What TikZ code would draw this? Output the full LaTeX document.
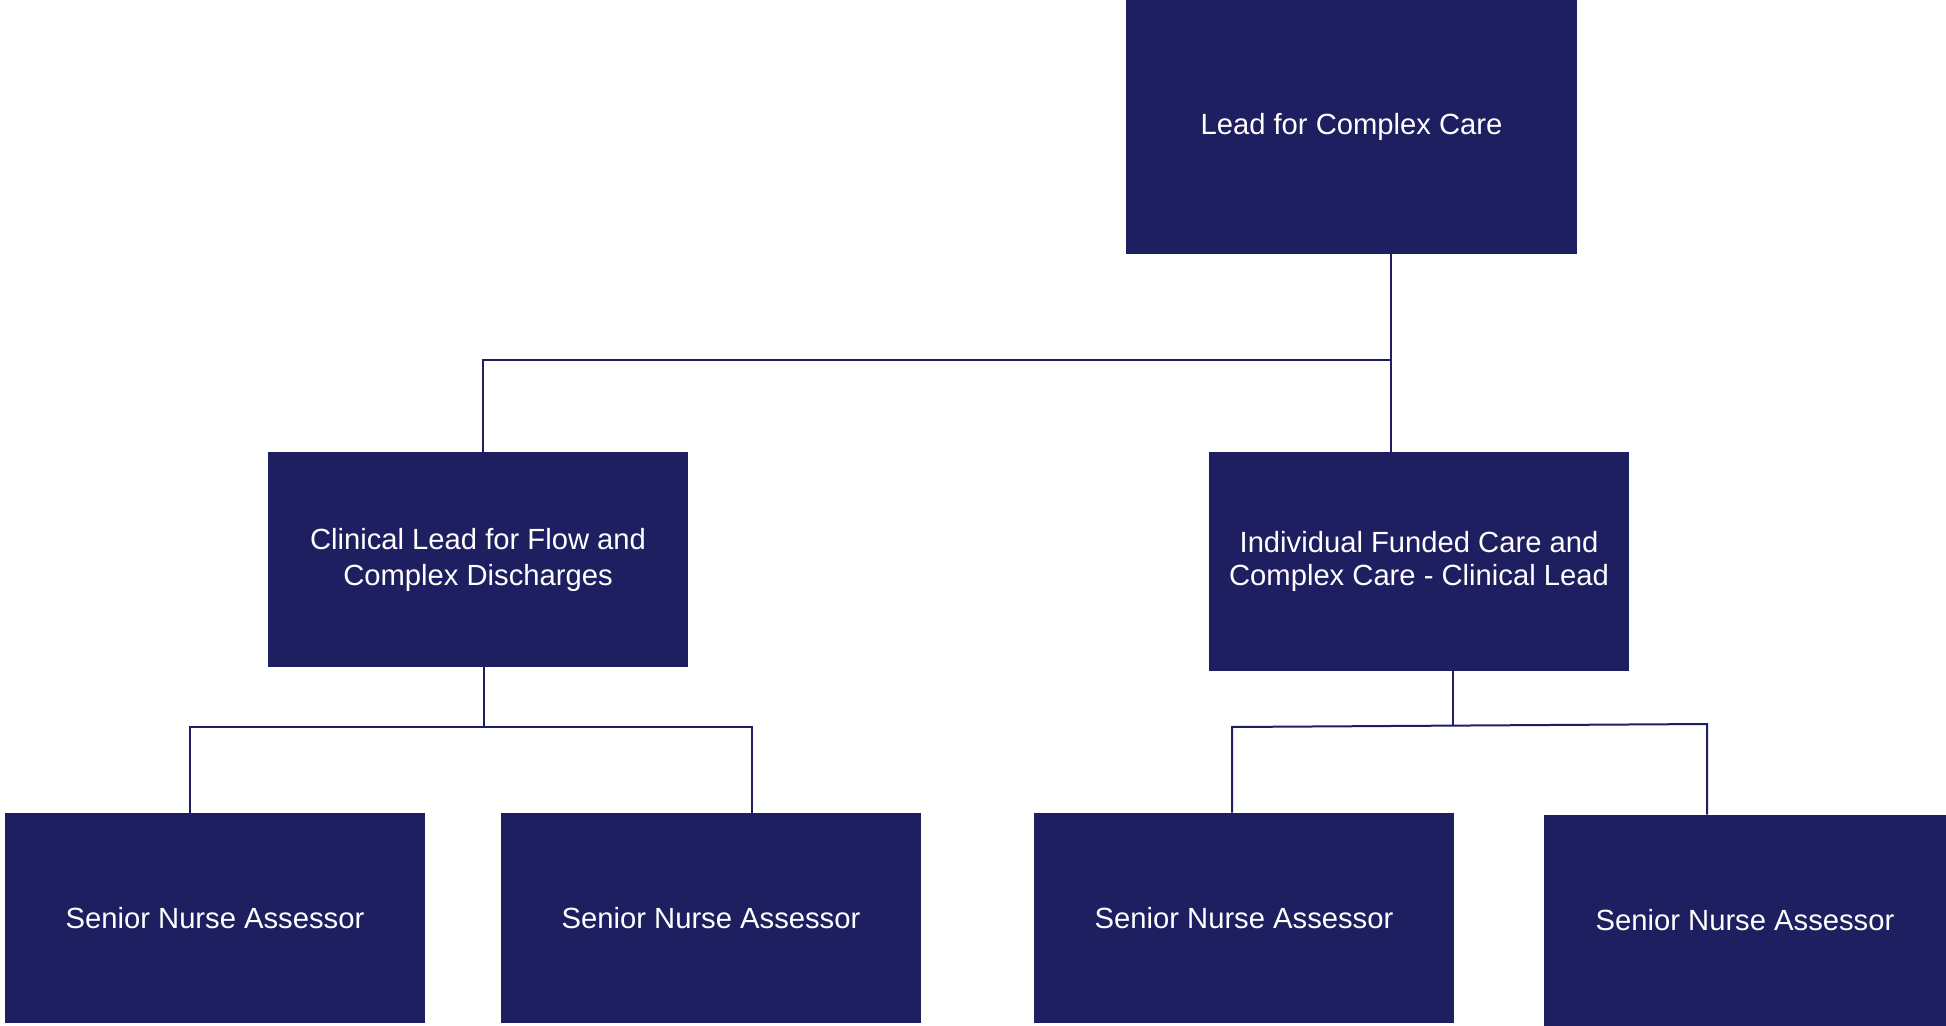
\documentclass[tikz,border=0pt]{standalone}
\usepackage{fontspec}
\setmainfont{Liberation Sans}
\definecolor{navy}{RGB}{30,31,96}
\begin{document}
\begin{tikzpicture}[x=0.5pt,y=-0.5pt,
  orgbox/.style={rectangle, fill=navy, draw=none, text=white, align=center, inner sep=0pt,
    font=\fontsize{14.6}{17.5}\selectfont},
  link/.style={draw=navy, line width=1pt}]
\useasboundingbox (0,0) rectangle (1946,1026);
\fill[white] (0,0) rectangle (1946,1026);
% boxes
\node[orgbox, minimum width=225.5pt, minimum height=127pt] (top) at (1351.5,127) {Lead for Complex Care};
\node[orgbox, minimum width=210pt, minimum height=107.5pt, font=\fontsize{14.6}{18}\selectfont] (midL) at (478,559.5) {Clinical Lead for Flow and\\Complex Discharges};
\node[orgbox, minimum width=210pt, minimum height=109.5pt, font=\fontsize{14.6}{16.4}\selectfont] (midR) at (1419,561.5) {Individual Funded Care and\\Complex Care - Clinical Lead};
\node[orgbox, minimum width=210pt, minimum height=105pt] (b1) at (215,918) {Senior Nurse Assessor};
\node[orgbox, minimum width=210pt, minimum height=105pt] (b2) at (711,918) {Senior Nurse Assessor};
\node[orgbox, minimum width=210pt, minimum height=105pt] (b3) at (1244,918) {Senior Nurse Assessor};
\node[orgbox, minimum width=201pt, minimum height=105.5pt] (b4) at (1745,920.5) {Senior Nurse Assessor};
% junction coordinates
\coordinate (j1) at (1391,360);
\coordinate (j2) at (483,360);
\coordinate (k0) at (484,727);
\coordinate (k1) at (190,727);
\coordinate (k2) at (752,727);
\coordinate (m0) at (1453,725.5);
\coordinate (m1) at (1232,727);
\coordinate (m2) at (1707,724);
% connectors
\draw[link] (top.south -| j1) -- (midR.north -| j1);
\draw[link] (j1) -- (j2) -- (j2 |- midL.north);
\draw[link] (midL.south -| k0) -- (k0);
\draw[link] (k1 |- b1.north) -- (k1) -- (k2) -- (k2 |- b2.north);
\draw[link] (midR.south -| m0) -- (m0);
\draw[link] (m1 |- b3.north) -- (m1) -- (m2) -- (m2 |- b4.north);
\end{tikzpicture}
\end{document}
